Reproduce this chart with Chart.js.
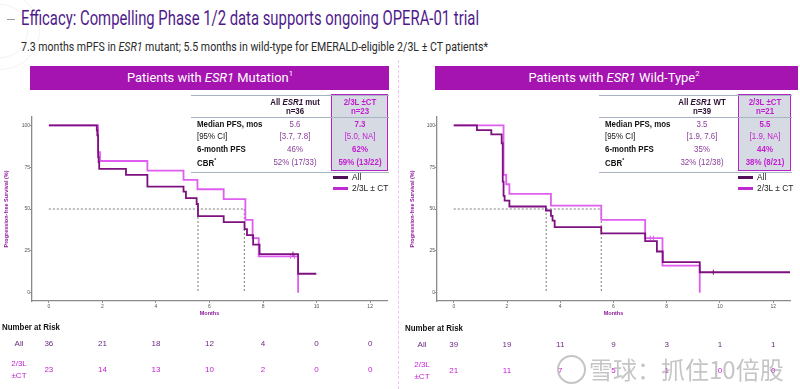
<!DOCTYPE html>
<html>
<head>
<meta charset="utf-8">
<script src="https://cdn.jsdelivr.net/npm/chart.js@4.4.1/dist/chart.umd.min.js"></script>
<style>
  html, body { margin: 0; padding: 0; background: #fff; }
  body { width: 800px; height: 389px; position: relative; overflow: hidden; font-family: "Liberation Sans", Arial, sans-serif; }
  .t { position: absolute; white-space: nowrap; line-height: 1; }
  .bar { position: absolute; background: #a513b1; }
  .ring { position: absolute; border: 1.5px solid rgba(0,0,0,0.05); border-radius: 50%; }
  canvas { position: absolute; }
</style>
</head>
<body>
<div class="ring" style="left:-38px;top:-8px;width:76px;height:76px;"></div>
<div class="ring" style="left:-26px;top:4px;width:52px;height:52px;"></div>
<div style="position:absolute;left:7px;top:19px;width:8px;border-top:1px solid #9a9a9a;"></div>
<div style="position:absolute;left:398px;top:60px;height:329px;border-left:1px dashed #f2c2f2;"></div>

<div class="bar" style="left:30px;top:66px;width:359px;height:24px;"></div>
<div class="bar" style="left:435px;top:66px;width:363px;height:24px;"></div>

<canvas id="mutChart" width="396" height="279" style="left:0px;top:110px;width:396px;height:279px;"></canvas>
<canvas id="wtChart" width="397" height="279" style="left:403px;top:110px;width:397px;height:279px;"></canvas>

<div id="labels"></div>

<script>
// axis ticks
const riskTimes = [0, 2, 4, 6, 8, 10, 12];
const yTicks = [0, 25, 50, 75, 100];

// ESR1 mutation KM curves (months, % progression-free)
const mutAllX = [0, 1.79, 1.81, 1.84, 1.86, 1.88, 2.88, 3.68, 5.03, 5.12, 5.52, 5.57, 6.53, 7.31, 7.4, 7.63, 7.87, 9.31, 9.99];
const mutAllY = [100, 97, 94, 81, 78, 74, 70.4, 63.4, 60.4, 56.5, 53, 45.7, 42.2, 38, 34.4, 28.7, 23, 11.3, 11.3];
const mutSubX = [0, 1.84, 1.91, 3.68, 5.03, 5.55, 6.53, 7.34, 7.61, 7.84, 9.31];
const mutSubY = [100, 84, 78.7, 72.9, 67.4, 61.8, 55.9, 43.5, 32.6, 21.7, 0];
const mutMedians = [5.57, 7.3];

// ESR1 wild-type KM curves
const wtAllX = [0, 0.87, 1.41, 1.8, 1.84, 1.87, 1.91, 2.09, 3.46, 3.65, 3.71, 3.79, 5.54, 7.19, 7.63, 7.85, 9.24, 12.63];
const wtAllY = [100, 97.2, 94.6, 89.3, 66.4, 57.8, 55, 51.5, 49.1, 45.9, 43.1, 39.2, 35.4, 30.8, 24.6, 18.3, 12.2, 12.2];
const wtSubX = [0, 1.87, 1.97, 2.09, 3.65, 5.54, 7.19, 7.84, 9.24];
const wtSubY = [100, 70.4, 64.8, 59, 52, 43.5, 32.6, 16.1, 0];
const wtMedians = [3.47, 5.54];

// censor marks
const mutCensorAll = [[9.12, 23]];
const mutCensorSub = [[9.02, 21.7], [9.17, 21.7]];
const wtCensorAll = [[9.75, 12.2]];
const wtCensorSub = [[7.38, 32.6], [7.5, 32.6]];

// number at risk
const mutRiskAll = [36, 21, 18, 12, 4, 0, 0];
const mutRiskSub = [23, 14, 13, 10, 2, 0, 0];
const wtRiskAll = [39, 19, 11, 9, 3, 1, 1];
const wtRiskSub = [21, 11, 7, 5, 1, 0, 0];

// summary tables
const statLabels = ['Median PFS, mos', '[95% CI]', '6-month PFS', 'CBR<sup style="font-size:6px">*</sup>'];
const mutAllStats = ['5.6', '[3.7, 7.8]', '46%', '52% (17/33)'];
const mutSubStats = ['7.3', '[5.0, NA]', '62%', '59% (13/22)'];
const wtAllStats = ['3.5', '[1.9, 7.6]', '35%', '32% (12/38)'];
const wtSubStats = ['5.5', '[1.9, NA]', '44%', '38% (8/21)'];

const darkCol = '#7d1180';
const lightCol = '#df5ef0';
const labelPurple = '#6a2a80';
const labelMagenta = '#c21ed0';
const FONT = '"Liberation Sans", Arial, sans-serif';

Chart.defaults.font.family = FONT;

const labels = document.getElementById('labels');
function txt(html, x, y, css, anchor, sx) {
  const d = document.createElement('div');
  d.className = 't';
  d.innerHTML = html;
  d.style.cssText += css;
  d.style.left = x + 'px';
  d.style.top = y + 'px';
  d.style.transformOrigin = anchor === 'c' ? 'center center' : 'left center';
  d.style.transform = (anchor === 'c' ? 'translate(-50%,-50%)' : 'translate(0,-50%)') + (sx ? ' scaleX(' + sx + ')' : '');
  labels.appendChild(d);
  return d;
}
function fit(d, w, anchor) {
  const real = d.getBoundingClientRect().width;
  const base = anchor === 'c' ? 'translate(-50%,-50%)' : 'translate(0,-50%)';
  d.style.transformOrigin = anchor === 'c' ? 'center center' : 'left center';
  d.style.transform = base + ' scaleX(' + (w / real) + ')';
}

// titles
fit(txt('Efficacy: Compelling Phase 1/2 data supports ongoing OPERA-01 trial', 21, 18,
  'font-family:Roboto;font-size:20.5px;color:#4f1b8c;'), 458, 'l');
fit(txt('7.3 months mPFS in <i>ESR1</i> mutant; 5.5 months in wild-type for EMERALD-eligible 2/3L ± CT patients*', 21, 46,
  'font-family:Roboto;font-size:13px;color:#2b2b2b;'), 467, 'l');
fit(txt('Patients with <i>ESR1</i> Mutation<sup style="font-size:8px">1</sup>', 210, 77,
  'font-family:Roboto;font-size:13.5px;color:#fff;'), 166, 'c');
fit(txt('Patients with <i>ESR1</i> Wild-Type<sup style="font-size:8px">2</sup>', 614, 77,
  'font-family:Roboto;font-size:13.5px;color:#fff;'), 171, 'c');

function buildTable(x0, x1, c2, boxL, head2, n1, n2, allStats, subStats, legendX) {
  const rule = (y) => {
    const d = document.createElement('div');
    d.style.cssText = 'position:absolute;left:' + x0 + 'px;top:' + y + 'px;width:' + (x1 - x0) + 'px;border-top:1px solid #a9b2c0;';
    labels.appendChild(d);
  };
  const box = document.createElement('div');
  box.style.cssText = 'position:absolute;left:' + boxL + 'px;top:94px;width:' + (x1 - boxL - 3) + 'px;height:75px;background:#d6dae2;border:1.5px solid #b522c6;';
  labels.appendChild(box);
  rule(95); rule(117); rule(172);
  const c3 = (boxL + x1) / 2;
  const fs = 'font-size:9.3px;';
  const sx = 0.85;
  txt(head2, c2, 102.5, fs + 'font-weight:bold;color:#2a1030;', 'c', sx);
  txt('n=' + n1, c2, 112.3, fs + 'font-weight:bold;color:#2a1030;', 'c', sx);
  txt('2/3L ±CT', c3, 102.5, fs + 'font-weight:bold;color:' + labelMagenta + ';', 'c', sx);
  txt('n=' + n2, c3, 112.3, fs + 'font-weight:bold;color:' + labelMagenta + ';', 'c', sx);
  const rowY = [124.7, 137.3, 149.5, 163.3];
  statLabels.forEach((lab, i) => {
    const w = i === 1 ? 'normal' : 'bold';
    txt(lab, x0 + 6, rowY[i], fs + 'color:#111;font-weight:' + w + ';', 'l', sx);
    txt(allStats[i], c2, rowY[i], fs + 'color:#8a3e9a;', 'c', sx);
    txt(subStats[i], c3, rowY[i], fs + 'font-weight:' + (i === 1 ? 'normal' : 'bold') + ';color:' + labelMagenta + ';', 'c', sx);
  });
  // legend
  const leg = (y, col, text) => {
    const l = document.createElement('div');
    l.style.cssText = 'position:absolute;left:' + legendX + 'px;top:' + (y - 1.5) + 'px;width:15px;height:3px;background:' + col + ';';
    labels.appendChild(l);
    txt(text, legendX + 19, y, 'font-size:9.5px;color:#222;', 'l', 0.88);
  };
  leg(177, '#520f5a', 'All');
  leg(188, '#c12ad2', '2/3L ± CT');
}
buildTable(191, 389, 295, 331, 'All <i>ESR1</i> mut', 36, 23, mutAllStats, mutSubStats, 333);
buildTable(599, 792, 702, 738, 'All <i>ESR1</i> WT', 39, 21, wtAllStats, wtSubStats, 738);

// watermark
const wm = document.createElement('div');
wm.style.cssText = 'position:absolute;left:557px;top:355px;width:25px;height:25px;border:2.5px solid rgba(150,150,150,0.55);border-radius:50%;';
labels.appendChild(wm);
txt('雪球：抓住10倍股', 589, 369, 'font-family:"Noto Sans CJK SC";font-size:24px;color:rgba(150,150,150,0.55);', 'l');

function pts(xs, ys) { return xs.map((x, i) => ({x: x, y: ys[i]})); }

function riskPlugin(all, sub, pos) {
  return {
    id: 'riskTable',
    afterDraw(chart) {
      const ctx = chart.ctx;
      const xs = chart.scales.x;
      ctx.save();
      ctx.textBaseline = 'middle';
      ctx.textAlign = 'left';
      ctx.fillStyle = '#111';
      ctx.font = 'bold 9px ' + FONT;
      ctx.fillText('Number at Risk', pos.headX, pos.headY, 58);
      ctx.font = '8px ' + FONT;
      ctx.textAlign = 'center';
      ctx.fillStyle = labelPurple;
      ctx.fillText('All', pos.labX, pos.allY);
      ctx.fillStyle = labelMagenta;
      ctx.fillText('2/3L', pos.labX, pos.subY - 6);
      ctx.fillText('±CT', pos.labX, pos.subY + 6);
      riskTimes.forEach((t, i) => {
        const px = xs.getPixelForValue(t);
        ctx.fillStyle = labelPurple;
        ctx.fillText(String(all[i]), px, pos.allY);
        ctx.fillStyle = labelMagenta;
        ctx.fillText(String(sub[i]), px, pos.subY);
      });
      ctx.restore();
    }
  };
}

function makeChart(id, allX, allY, subX, subY, medians, cAll, cSub, yWidth, yTitlePad, padRight, risk) {
  const medianSets = [
    {data: [{x: 0, y: 50}, {x: medians[1], y: 50}]},
    {data: [{x: medians[0], y: 50}, {x: medians[0], y: 0}]},
    {data: [{x: medians[1], y: 50}, {x: medians[1], y: 0}]}
  ].map(d => Object.assign(d, {borderColor: '#7a7a7a', borderWidth: 1, borderDash: [2, 2], pointRadius: 0}));

  new Chart(document.getElementById(id).getContext('2d'), {
    type: 'line',
    data: {
      datasets: [
        {data: pts(allX, allY), stepped: true, borderColor: darkCol, borderWidth: 1.8, pointRadius: 0},
        {data: cAll.map(p => ({x: p[0], y: p[1]})), showLine: false, pointStyle: 'line', rotation: 90, pointRadius: 2.5, borderColor: darkCol, borderWidth: 1},
        {data: pts(subX, subY), stepped: true, borderColor: lightCol, borderWidth: 1.8, pointRadius: 0},
        {data: cSub.map(p => ({x: p[0], y: p[1]})), showLine: false, pointStyle: 'line', rotation: 90, pointRadius: 2.5, borderColor: lightCol, borderWidth: 1}
      ].concat(medianSets)
    },
    options: {
      responsive: false,
      animation: false,
      layout: {padding: {left: 0, top: 7, right: padRight, bottom: 67}},
      plugins: {legend: {display: false}, tooltip: {enabled: false}},
      scales: {
        x: {
          type: 'linear',
          min: -0.63,
          max: 12.63,
          afterBuildTicks: s => { s.ticks = riskTimes.map(v => ({value: v})); },
          afterFit: s => { s.height = 21; },
          ticks: {font: {size: 5}, color: '#555', padding: 1, maxRotation: 0, autoSkip: false},
          grid: {display: true, drawOnChartArea: false, drawTicks: true, tickLength: 2, color: '#8a8a8a'},
          border: {display: true, color: '#8a8a8a', width: 1.3},
          title: {display: true, text: 'Months', color: '#8e1a9a', font: {size: 5.5, weight: 'bold'}, padding: {top: 0, bottom: 5}}
        },
        y: {
          min: -5,
          max: 105,
          afterBuildTicks: s => { s.ticks = yTicks.map(v => ({value: v})); },
          afterFit: s => { s.width = yWidth; },
          ticks: {font: {size: 5}, color: '#555', padding: 0},
          grid: {display: true, drawOnChartArea: false, drawTicks: true, tickLength: 2, color: '#8a8a8a'},
          border: {display: true, color: '#8a8a8a', width: 1.3},
          title: {display: true, text: 'Progression-free Survival (%)', color: '#8e1a9a', font: {size: 5.5, weight: 'bold'}, padding: {top: yTitlePad, bottom: 0}}
        }
      }
    },
    plugins: [riskPlugin(risk.all, risk.sub, risk.pos)]
  });
}

makeChart('mutChart', mutAllX, mutAllY, mutSubX, mutSubY, mutMedians, mutCensorAll, mutCensorSub, 32, 2.7, 9,
  {all: mutRiskAll, sub: mutRiskSub, pos: {headX: 2, headY: 218, labX: 19, allY: 234, subY: 260}});
makeChart('wtChart', wtAllX, wtAllY, wtSubX, wtSubY, wtMedians, wtCensorAll, wtCensorSub, 34, 5.7, 10,
  {all: wtRiskAll, sub: wtRiskSub, pos: {headX: 2, headY: 219, labX: 19, allY: 235, subY: 261}});
</script>
</body>
</html>
